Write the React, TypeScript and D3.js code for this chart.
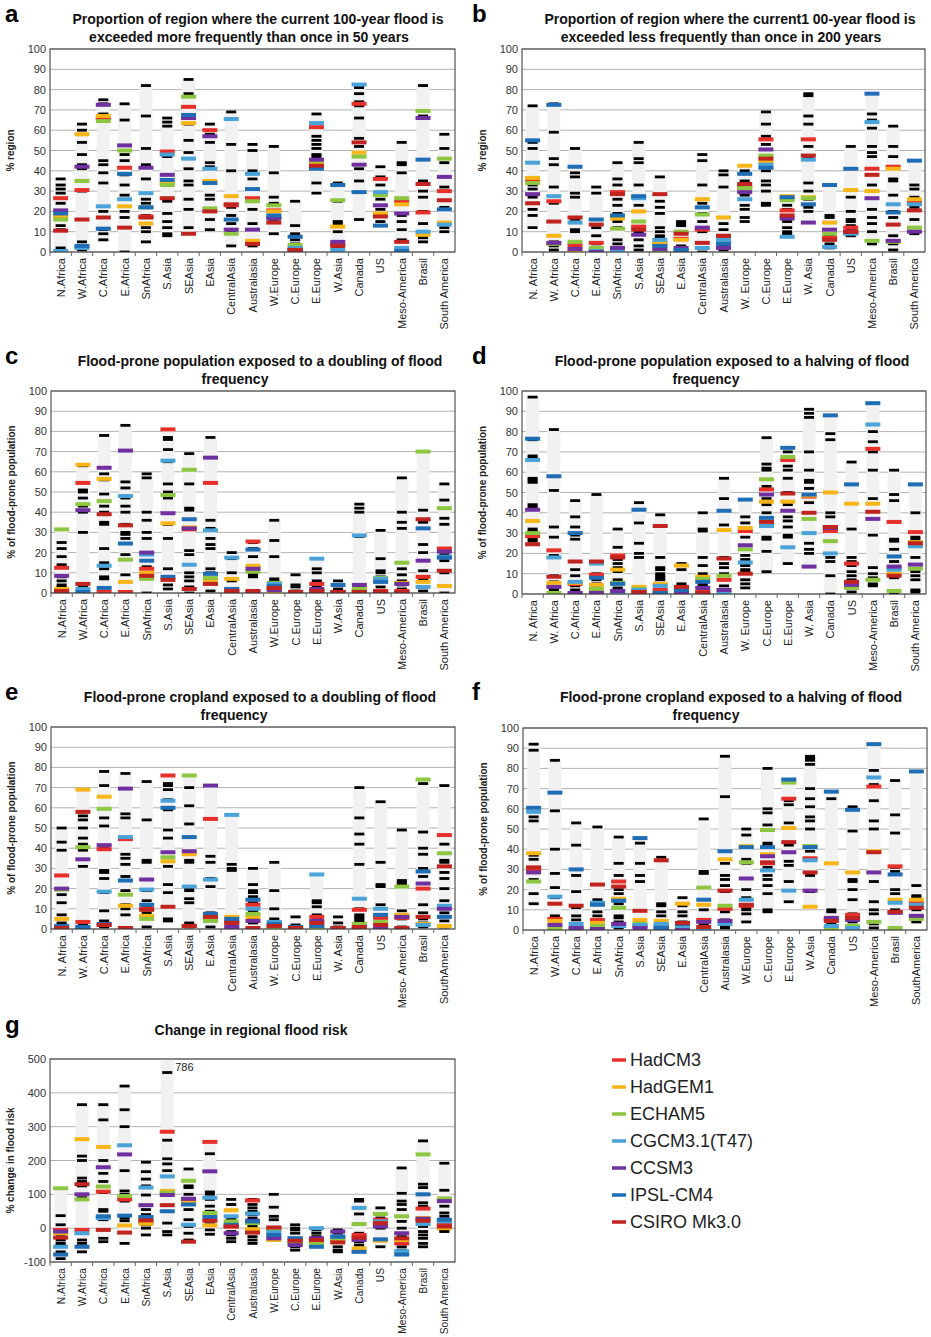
import React from "react";
import * as d3 from "d3";

const regionsA = ["N.Africa","W.Africa","C.Africa","E.Africa","SnAfrica","S.Asia","SEAsia","EAsia","CentralAsia","Australasia","W.Europe","C.Europe","E.Europe","W.Asia","Canada","US","Meso-America","Brasil","South America"];
const regionsB = ["N. Africa","W. Africa","C.Africa","E.Africa","SnAfrica","S.Asia","SEAsia","E.Asia","CentralAsia","Australasia","W. Europe","C.Europe","E.Europe","W. Asia","Canada","US","Meso-America","Brasil","South America"];
const regionsE = ["N. Africa","W. Africa","C.Africa","E.Africa","SnAfrica","S.Asia","SEAsia","E.Asia","CentralAsia","Australasia","W. Europe","C.Europe","E.Europe","W. Asia","Canada","US","Meso- America","Brasil","SouthAmerica"];
const regionsF = ["N.Africa","W.Africa","C.Africa","E.Africa","SnAfrica","S.Asia","SEAsia","E.Asia","CentralAsia","Australasia","W.Europe","C.Europe","E.Europe","W.Asia","Canada","US","Meso-America","Brasil","SouthAmerica"];

const modelNames = ["HadCM3","HadGEM1","ECHAM5","CGCM3.1(T47)","CCSM3","IPSL-CM4","CSIRO Mk3.0"];
const modelColors = ["#e8302a","#f7b517","#8dc641","#4aa3d8","#7030a0","#1f6db4","#c1241f"];

// model order: HadCM3, HadGEM1, ECHAM5, CGCM3.1, CCSM3, IPSL, CSIRO
const rangeA = [[0,36],[0,63],[5,75],[0,73],[4,82],[7,66],[8,85],[11,63],[3,69],[2,53],[9,52],[0,25],[29,68],[0,34],[16,83],[13,42],[0,54],[4,83],[10,58]];
const modelsA = [[26.5,17.5,16,0.5,20.5,19,10.5],[30.5,58,35,2,42,3,16],[66,67,64.5,22.5,72.5,11.5,17],[41.5,22.5,50,26,52.5,38.5,12],[17.5,14,22,29,41.5,22,17],[49.5,34,33,48,38,35.5,26.5],[71.5,63.5,76.5,46,66,67.5,9],[60,35,21.5,41,57,34,20],[23,27.5,9,65.5,11,16,23.5],[26.5,5.5,25,38.5,11,31,4],[20.5,20,23,17,16.5,18,14.5],[0.5,1.5,3.5,2,1,7.5,1],[61.5,44,45,63.5,45.5,41,42.5],[3.5,12.5,25.5,1,5,33,3],[73,49,47,82.5,43,29.5,54],[36,19,28,29.5,23,13,17.5],[25,23.5,26.5,2,19,0.5,5],[19.5,8.5,69.5,10,66,45.5,33.5],[30,14.5,46,13.5,37,21,25.5]];
const blackA = [[36,33,31,29,24,18,13,11,2,1],[63,60,54,48,43,41,30,5,3,1],[75,73,68,45,43,39,34,20,11,9,6],[73,65,48,45,38,33,28,20,17,0],[82,67,51,43,36,26,24,18,12,10,5],[66,64,62,47,34,25,19,15,12,9,8],[85,78,63,55,49,41,35,33,26,21,12],[63,58,54,44,42,28,26,16,11],[69,53,40,22,18,14,10,3],[53,50,40,36,21,14,3],[52,39,27,24,20,16,9],[25,13,9,6,4,2],[68,57,55,53,51,48,47,34,29],[34,25,15,14,10,2,0],[81,78,74,72,66,56,52,49,41,35,16],[42,37,33,26,21,15],[54,44,43,39,18,15,11,6,2],[82,67,35,30,27,20,14,10,7,5],[58,51,44,32,22,12,10]];

const rangeB = [[12,72],[1,73],[0,51],[0,32],[0,44],[1,54],[0,37],[0,15],[0,48],[0,40],[15,43],[23,69],[8,28],[14,78],[2,33],[7,52],[3,78],[0,62],[9,45]];
const modelsB = [[35,36.5,34,44,28.5,55,24],[25,8,4,27.5,4.5,72.5,15],[3.5,0.5,5,14.5,1.5,42,17],[4.5,1,2,0.5,0,16,13.5],[29.5,16.5,11.5,1,2,18,28.5],[12.5,20,15,26.5,8.5,27.5,11],[4,4.5,0,6,1.5,3,28.5],[6.5,6,10,0.5,2,1,9],[11,26,18.5,2,12,22,4.5],[7,17,5,6,2,4,8],[32,42.5,31.5,26,29.5,38.5,33.5],[55.5,44.5,47.5,43,50.5,41.5,46],[20.5,27.5,25.5,7.5,16.5,27,18],[55.5,27,26.5,45.5,14.5,23.5,47.5],[7,14.5,9,2.5,11,33,6],[12,30.5,9.5,9,10,41,10],[41,30,5.5,64,26.5,78,38],[42,41,5,23.5,5.5,19.5,13.5],[24.5,26,12,23.5,10,45,20.5]];
const blackB = [[72,54,51,44,33,31,27,21,18,12],[73,59,46,43,32,24,5,3,1],[51,39,37,29,27,16,11,10,3],[32,29,12,8,4,2],[44,36,33,26,23,19,15,12,6,4,2],[54,46,44,33,27,23,10,6,3,1],[37,25,22,19,12,10,8,7,3,1],[15,14,13,9,3,2],[48,45,33,24,19,15,10,2,0],[40,38,32,14,11,6,3,1],[40,35,28,23,21,17,15],[69,63,57,53,40,35,33,30,24,23],[26,23,21,18,15,12,10,9],[78,77,67,63,52,47,34,30,26,22,20],[18,17,11,8,6,4,2],[52,41,27,20,16,15,13,11,9,8],[68,65,61,52,49,47,33,21,17,14,10,4],[62,52,47,36,35,28,20,17,8,4,1],[33,31,27,22,16,12,10,9]];

const rangeC = [[0,31],[0,63],[0,78],[0,83],[0,59],[2,81],[0,69],[0,77],[0,20],[0,26],[0,36],[0,9],[0,17],[0,6],[0,44],[0,31],[0,57],[1,70],[0,54]];
const modelsC = [[12.5,2,31.5,0,8.5,0.5,1],[54.5,63.5,44,2,41,0.5,4.5],[0.5,56.5,45.5,13.5,62,2.5,39],[0.5,5.5,16.5,48,70.5,24.5,33.5],[12,10,7,19,20,16,8.5],[81,34.5,48.5,65.5,39.5,8,6.5],[31.5,32.5,61,14,32,36.5,2],[54.5,6.5,7.5,31,67,9.5,4.5],[1.5,7,0.5,17.5,0,2,1],[25.5,13.5,10.5,0.5,12,21.5,1],[2,1,5,4.5,1.5,3.5,2.5],[0,0.5,0.5,0.5,0.5,0.5,0.5],[4.5,0.5,0.5,17,2,1,1],[0,0.5,0.5,0.5,0.5,4,0.5],[0.5,1.5,2,28.5,4,0,0.5],[1,0.5,7.5,7,0.5,5.5,0.5],[1,5,15,0,4.5,0,0.5],[8,5.5,70,3,16,32,36.5],[22,3.5,42,18,20.5,17.5,11]];
const blackC = [[25,22,18,14,8,6,4,3,1],[63,51,50,47,43,40,30,3,1],[78,59,56,49,43,40,35,34,22,15,12,8,7],[83,55,52,47,43,40,34,30,29,27,19,9,0],[59,57,40,36,30,27,20,13,10,0],[77,76,71,65,54,50,47,34,27,12,4,2],[69,54,42,41,21,19,10,8,6,3,0],[77,36,32,27,24,22,12,10,5,1],[20,17,10,6,2,1],[25,22,18,10,9,8,0],[36,26,18,7,6,3,1],[9,4,3,1],[12,10,6,3,2,1],[6,4,2,1],[44,42,40,28,3,1],[31,17,11,10,8,3,1],[57,40,35,32,12,9,6,4,2],[70,41,35,24,20,11,7,3,1],[54,46,37,34,19,16,11,10,0]];

const rangeD = [[24,97],[0,81],[0,46],[0,49],[0,32],[0,45],[0,39],[0,15],[0,40],[0,57],[3,47],[11,77],[15,72],[13,91],[0,88],[0,65],[4,94],[0,61],[1,54]];
const modelsD = [[28.5,36,30,66,41.5,76.5,24.5],[21.5,5.5,0.5,18,3.5,58,8.5],[5,5.5,0.5,6,0.5,30,16],[9.5,4.5,2.5,15,0.5,8,16],[19,12,5.5,1,1.5,5,18],[1.5,3.5,2.5,2,0.5,41.5,1],[2,5,0.5,4,0,0.5,33.5],[3,14,1,1.5,0.5,2,3.5],[1,8.5,7.5,0,3,6,0.5],[7,31.5,9,0.5,2,41,17.5],[31,32.5,22,15.5,24,46.5,10],[51.5,45.5,56.5,33.5,49,37.5,35.5],[66,45.5,67.5,23,41,72,49.5],[48,48.5,37,30,13.5,49,40],[31,50,26,20,32.5,88,33],[15,44.5,3,5,4.5,54,6],[71.5,44.5,7,83.5,37,94,40.5],[35.5,10,1.5,12,13.5,18.5,9],[30.5,25.5,12.5,23.5,14.5,54,25]];
const blackD = [[97,76,68,67,57,56,55,44,43,32,31,27,26],[81,51,33,28,19,9,6,3,2,1],[46,38,33,29,27,12,9,6,4,2,0],[49,10,7,5,3,2,1],[32,23,17,15,13,11,7,3,2],[45,35,25,20,18,2,1],[39,18,13,12,10,9,8,7,5,2,1],[15,12,5,3,2,1],[40,32,31,18,14,10,5,4,2],[57,47,34,18,15,13,10,7,4],[38,35,31,28,19,17,15,14,12,11,7,5,3],[77,64,62,61,53,47,44,40,28,27,21,11],[70,67,63,61,57,50,44,38,36,33,29,28,15],[91,89,87,70,61,56,55,52,45,25,22,20],[79,76,40,38,33,26,18,16,9,0],[65,32,18,16,14,11,9,7,5,1],[80,75,70,61,47,29,13,10,8,5,4],[61,49,46,27,26,22,16,12,8,0],[40,28,27,24,18,11,9,7,2,1]];

const rangeE = [[0,50],[0,69],[0,78],[0,77],[0,73],[3,76],[0,76],[0,71],[0,56],[0,30],[0,33],[0,7],[0,27],[0,6],[0,70],[0,63],[0,49],[0,74],[1,71]];
const modelsE = [[26.5,5,19.5,0.5,20,1.5,0.5],[3.5,69,40.5,1,34.5,1,58],[39.5,65.5,59.5,18.5,41.5,2.5,2],[44.5,11.5,17,45.5,69.5,24,0.5],[10,6.5,5,19.5,24.5,12,9.5],[76,33.5,35.5,63.5,38,60,11],[1.5,37,76,21,38.5,45.5,1.5],[54.5,5,4,24.5,71,7.5,6],[3.5,6,0.5,56.5,1,5,3],[12,6,7.5,10,4,14.5,0.5],[1,0.5,0.5,3.5,2,2.5,1.5],[0.5,0,0,0,0,1,0.5],[6,0.5,0,27,4,1.5,3],[0.5,0,0,0,0,0,0.5],[9.5,0.5,2.5,15,0.5,0,1],[5.5,0.5,3.5,10,0.5,7,2],[5.5,7,21,0,6,0,0.5],[20,2.5,74,2,22.5,28.5,6],[46.5,1.5,37.5,11.5,10,6,31]];
const blackE = [[50,43,39,17,13,7,3,2,1],[58,56,54,50,45,42,40,39,31,2,1],[78,71,55,51,40,29,28,25,18,9,4,2,1],[77,57,55,37,35,32,26,24,19,12,10,7,0],[73,54,34,33,19,14,11,8,6,1],[72,71,69,64,59,49,45,31,22,18,5,4],[70,61,52,34,33,20,19,15,13,3,1],[71,36,33,25,21,8,1],[32,30,29,6,5,4,2,1,0],[30,22,19,18,16,13,9,8,5,3,0],[33,19,10,5,4,2,1],[6,2,1],[14,13,11,7,5,3,1],[6,3,1],[70,55,47,42,32,10,7,6,5,4,3,1],[63,33,22,21,12,6,2,1],[49,24,23,22,9,5,1],[72,48,40,37,30,26,12,8,5,3,1],[71,42,34,33,28,25,20,14,8,4,1]];

const rangeF = [[13,92],[0,84],[0,53],[0,51],[1,46],[0,45],[0,36],[0,16],[0,55],[0,87],[4,50],[9,80],[13,75],[11,86],[0,68],[0,61],[0,92],[0,74],[3,78]];
const modelsF = [[30,38,24,58.5,28.5,60.5,31],[5.5,4.5,0.5,16.5,2.5,68,13],[0.5,0.5,0.5,3,1,30,12],[5,3.5,2,13.5,0.5,12.5,22.5],[24,15.5,11,2,3,14.5,21.5],[2,5,3,2.5,1,45.5,9.5],[2,4.5,0,3,1,1,34.5],[1.5,13,1,2,0,3,3.5],[5,12.5,21,0,4,15,1.5],[10.5,35,12,3,4.5,39,19.5],[12,41.5,33.5,15,25.5,41,12.5],[33,37.5,49.5,29.5,36.5,41,33.5],[65,50.5,73,19.5,38.5,74.5,43.5],[35.5,11.5,41.5,34.5,19.5,41,28.5],[5,33,1,2,6,68.5,4.5],[7.5,28.5,2,1,5,59.5,6],[71,39,4,75.5,28.5,92,38.5],[31.5,15,1,13.5,8.5,27.5,9],[13.5,15,5.5,12.5,7,78.5,11]];
const blackF = [[92,89,56,54,37,35,31,29,25,18,13],[84,59,40,28,21,16,7,3,1],[53,42,27,19,11,7,5,3,1],[51,15,9,7,5,3,1],[46,33,27,20,18,13,7,6,4,3,1],[43,33,27,24,4,3,1],[36,13,12,9,7,4,1],[16,12,9,7,4,2],[55,29,28,15,10,5,3,1],[86,66,33,27,25,22,19,9,5,2,1],[50,47,35,33,20,16,15,11,10,8,4],[80,60,58,52,43,42,31,27,25,22,18,10,9],[73,64,62,53,42,34,32,24,14],[86,85,84,82,70,65,61,56,54,50,39,27,19],[65,10,9,6,3,1],[61,49,25,24,20,15,8,6,4,1],[79,72,64,54,50,24,14,10,8,3,1],[74,57,48,31,29,20,18,10,1],[22,17,16,15,12,10,6,4]];

const rangeG = [[-93,115],[-70,365],[-40,365],[-45,420],[-20,195],[-20,786],[-40,175],[-20,255],[-40,85],[-45,85],[-37,100],[-65,10],[-55,3],[-70,-5],[-70,85],[-55,60],[-80,178],[-60,258],[-10,192]];
const modelsG = [[-5,-15,118,-55,-10,-78,-28],[-5,263,85,-15,100,-55,130],[108,240,123,30,180,35,-5],[85,8,95,245,218,37,-13],[18,13,30,120,68,33,23],[285,110,105,153,98,50,68],[85,75,140,10,87,70,-40],[255,8,45,90,168,33,22],[5,53,20,35,-15,10,5],[82,-3,15,43,22,20,-13],[0,-35,-5,-12,-30,-20,2],[-40,-40,-45,-30,-50,-30,-37],[-40,-45,-47,0,-30,-55,-35],[-35,-35,-30,-25,-10,-25,-42],[-20,-60,12,60,-35,-70,-28],[25,-37,42,20,5,-33,15],[-45,-35,35,-68,-15,-78,-30],[58,30,218,12,28,100,22],[10,0,88,20,80,25,5]];
const blackG = [[37,10,-10,-15,-25,-35,-45,-50,-70,-90],[365,213,200,148,138,125,90,-35,-45,-70],[365,320,200,162,138,105,55,50,35,25,-5,-30,-40],[420,350,300,170,110,100,90,80,30,22,-45],[195,167,145,125,98,55,40,25,10,0,-20],[460,260,205,190,170,110,15,-10,-20],[175,125,120,100,80,55,25,5,-15,-35],[220,107,100,85,65,50,30,20,10,-5,-18],[85,70,30,25,20,-10,-20,-30,-40],[85,70,60,50,40,30,15,5,-25,-35,-45],[100,62,35,25,0,-10,-25,-35],[10,0,-5,-15,-30,-45,-55,-65],[-5,-15,-25,-35,-45,-50],[-5,-15,-25,-40,-55,-65,-70],[85,80,60,42,12,-15,-30,-40,-50],[60,40,30,20,10,0,-55],[178,103,80,70,55,20,0,-25,-55,-65,-75],[258,130,120,100,75,65,20,5,-10,-20,-30,-45,-55],[192,112,80,65,45,35,20,15,-5,-10]];

const ticks100 = [0,10,20,30,40,50,60,70,80,90,100];
const ticksG = [-100,0,100,200,300,400,500];

type P = { letter: string; lx: number; title: string[]; tx: number[]; ty: number; x0: number; x1: number; y0: number; y1: number; dom: [number, number]; ticks: number[]; ylab: string; cats: string[]; range: number[][]; models: number[][]; black: number[][]; fs: number; };

const panels: P[] = [
  { letter: "a", lx: 5, title: ["Proportion of region where the current 100-year flood is","exceeded more frequently than once in 50 years"], tx: [258,249], ty: 24, x0: 50, x1: 455, y0: 252, y1: 49, dom: [0,100], ticks: ticks100, ylab: "% region", cats: regionsA, range: rangeA, models: modelsA, black: blackA, fs: 11 },
  { letter: "b", lx: 472, title: ["Proportion of region where the current1 00-year flood is","exceeded less frequently than once in 200 years"], tx: [730,721], ty: 24, x0: 522, x1: 925, y0: 252, y1: 49, dom: [0,100], ticks: ticks100, ylab: "% region", cats: regionsB, range: rangeB, models: modelsB, black: blackB, fs: 11 },
  { letter: "c", lx: 5, title: ["Flood-prone population exposed to a doubling of flood","frequency"], tx: [260,235], ty: 366, x0: 51, x1: 455, y0: 593, y1: 391, dom: [0,100], ticks: ticks100, ylab: "% of flood-prone population", cats: regionsA, range: rangeC, models: modelsC, black: blackC, fs: 11 },
  { letter: "d", lx: 472, title: ["Flood-prone population exposed to a halving of flood","frequency"], tx: [732,706], ty: 366, x0: 522, x1: 926, y0: 594, y1: 391, dom: [0,100], ticks: ticks100, ylab: "% of flood-prone population", cats: regionsB, range: rangeD, models: modelsD, black: blackD, fs: 11 },
  { letter: "e", lx: 5, title: ["Flood-prone cropland exposed to a doubling of flood","frequency"], tx: [260,234], ty: 702, x0: 51, x1: 455, y0: 929, y1: 727, dom: [0,100], ticks: ticks100, ylab: "% of flood-prone population", cats: regionsE, range: rangeE, models: modelsE, black: blackE, fs: 11 },
  { letter: "f", lx: 472, title: ["Flood-prone cropland exposed to a halving of flood","frequency"], tx: [731,706], ty: 702, x0: 523, x1: 927, y0: 930, y1: 728, dom: [0,100], ticks: ticks100, ylab: "% of flood-prone population", cats: regionsF, range: rangeF, models: modelsF, black: blackF, fs: 11 },
  { letter: "g", lx: 5, title: ["Change in regional flood risk"], tx: [251], ty: 1035, x0: 50, x1: 455, y0: 1262, y1: 1059, dom: [-100,500], ticks: ticksG, ylab: "% change in flood risk", cats: regionsA, range: rangeG, models: modelsG, black: blackG, fs: 10.2 },
];

const FONT = "'Liberation Sans', Arial, Helvetica, sans-serif";

function Panel({ p }: { p: P }) {
  const x = d3.scaleBand<string>().domain(p.cats).range([p.x0, p.x1]);
  const y = d3.scaleLinear().domain(p.dom).range([p.y0, p.y1]);
  const cy = (v: number) => Math.max(p.y1, Math.min(p.y0, y(v)));
  const bw = x.bandwidth();
  const clipId = "clip" + p.letter;
  return (
    <g>
      <text x={p.lx} y={p.ty - 2} fontSize={24} fontWeight="bold" fontFamily={FONT}>{p.letter}</text>
      {p.title.map((t, i) => (
        <text key={i} x={p.tx[i]} y={p.ty + i * 18} textAnchor="middle" fontSize={14} fontWeight="bold" fontFamily={FONT} fill="#111">{t}</text>
      ))}
      <clipPath id={clipId}><rect x={p.x0} y={p.y1} width={p.x1 - p.x0} height={p.y0 - p.y1} /></clipPath>
      {p.ticks.map(t => (
        <g key={t}>
          <line x1={p.x0} x2={p.x1} y1={y(t)} y2={y(t)} stroke="#b3b3b3" strokeWidth={1} />
          <text x={p.x0 - 4} y={y(t) + 4} textAnchor="end" fontSize={11} fontFamily={FONT} fill="#333">{t}</text>
        </g>
      ))}
      <g clipPath={`url(#${clipId})`}>
        {p.cats.map((c, i) => {
          const cx = (x(c) as number) + bw / 2;
          const [lo, hi] = p.range[i];
          return (
            <g key={c}>
              <rect x={cx - 6.5} y={cy(hi)} width={13} height={Math.max(0, cy(lo) - cy(hi))} fill="#f1f1f1" />
              {p.black[i].map((v, j) => (
                <rect key={"b" + j} x={cx - 5} y={y(v) - 1.4} width={10} height={2.8} fill="#000" />
              ))}
              {p.models[i].map((v, j) => (
                <rect key={"m" + j} x={cx - 7.5} y={y(v) - 2} width={15} height={4} fill={modelColors[j]} />
              ))}
            </g>
          );
        })}
      </g>
      <rect x={p.x0} y={p.y1} width={p.x1 - p.x0} height={p.y0 - p.y1} fill="none" stroke="#333" strokeWidth={1} />
      {p.cats.map(c => {
        const cx = (x(c) as number) + bw / 2;
        return (
          <g key={"l" + c}>
            <line x1={x(c) as number} x2={x(c) as number} y1={p.y0} y2={p.y0 + 4} stroke="#666" />
            <text transform={`translate(${cx + 4},${p.y0 + 6}) rotate(-90)`} textAnchor="end" fontSize={p.fs} fontFamily={FONT} fill="#222">{c}</text>
          </g>
        );
      })}
      <text transform={`translate(${p.x0 - 36},${(p.y0 + p.y1) / 2}) rotate(-90)`} textAnchor="middle" fontSize={10} fontWeight="bold" fontFamily={FONT} fill="#222">{p.ylab}</text>
      {p.letter === "g" && (
        <text x={(x("S.Asia") as number) + bw / 2 + 8} y={p.y1 + 12} fontSize={11} fontFamily={FONT} fill="#222">786</text>
      )}
    </g>
  );
}

export default function App() {
  return (
    <svg width={931} height={1337} style={{ position: "absolute", left: 0, top: 0, background: "#fff" }}>
      <rect width={931} height={1337} fill="#fff" />
      {panels.map(p => <Panel key={p.letter} p={p} />)}
      {modelNames.map((m, i) => (
        <g key={m}>
          <line x1={612} x2={626} y1={1060 + i * 27} y2={1060 + i * 27} stroke={modelColors[i]} strokeWidth={3.5} />
          <text x={630} y={1066 + i * 27} fontSize={18} fontFamily={FONT} fill="#222">{m}</text>
        </g>
      ))}
    </svg>
  );
}
